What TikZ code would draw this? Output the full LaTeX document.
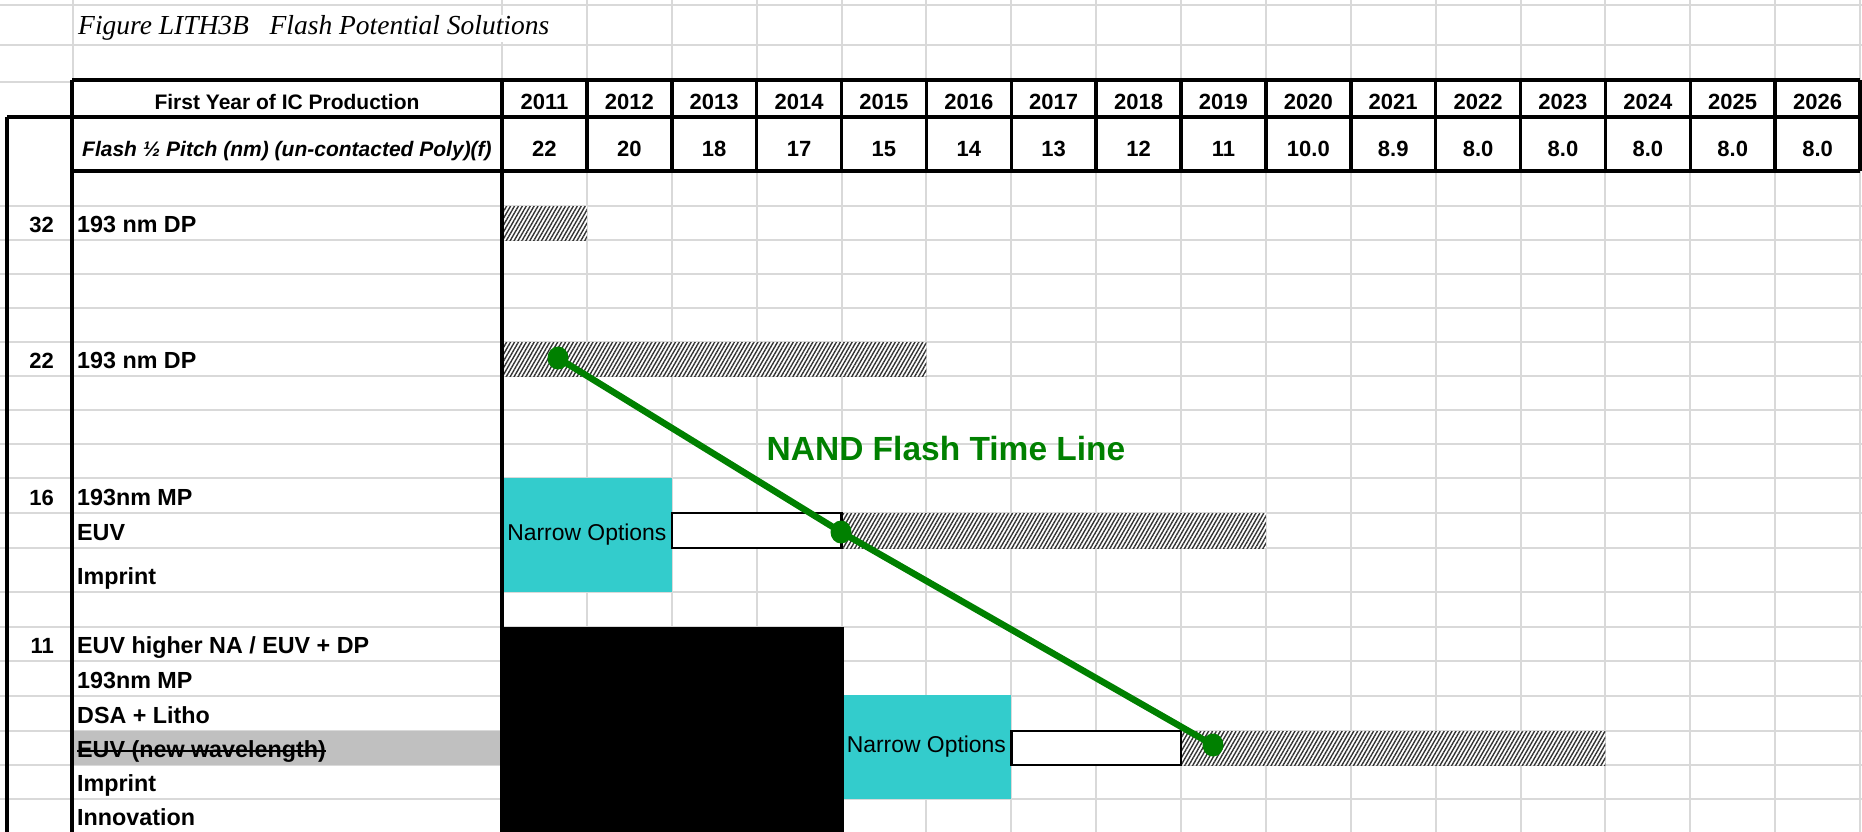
\documentclass[tikz,border=0pt]{standalone}
\usepackage{fontspec}
\setmainfont{Liberation Sans}
\newfontfamily\serifit{Liberation Serif}
\usetikzlibrary{shapes.geometric,patterns.meta,positioning}

\definecolor{gridgray}{HTML}{D9D9D9}
\definecolor{cellgray}{HTML}{C0C0C0}
\definecolor{optcyan}{HTML}{33CCCC}
\definecolor{nandgreen}{HTML}{008000}

\newcommand{\hdfont}{\fontsize{21}{24}\selectfont\bfseries}
\newcommand{\yrfont}{\fontsize{22}{25}\selectfont\bfseries}
\newcommand{\lbfont}{\fontsize{23.3}{27}\selectfont\bfseries}

\tikzset{
  gridline/.style={draw=gridgray, line width=2pt},
  tablerule/.style={draw=black, line width=3.5pt},
  celltext/.style={inner sep=0pt, anchor=base west, font=\lbfont},
  rownum/.style={inner sep=0pt, anchor=base east, font=\yrfont},
  yeartext/.style={inner sep=0pt, anchor=base, font=\yrfont},
  hatchbar/.style={anchor=north west, inner sep=0pt, outer sep=0pt, minimum height=34pt,
    preaction={fill=white}, pattern={Lines[angle=60,distance=3.4pt,line width=1.4pt]},
    pattern color=black!80},
  optionbox/.style={anchor=north west, inner sep=0pt, outer sep=0pt, fill=optcyan,
    font=\fontsize{22.9}{26}\selectfont},
  openbox/.style={anchor=north west, inner sep=0pt, outer sep=0pt, fill=white, draw=black,
    line width=2.5pt, minimum height=34pt},
  timedot/.style={ellipse, fill=nandgreen, inner sep=0pt, minimum width=21pt, minimum height=23pt},
}

\begin{document}
\begin{tikzpicture}[x=1pt,y=-1pt]
\useasboundingbox (0,0) rectangle (1862,832);

% Sheet grid
\foreach \y in {5,45,206,240,274,308,342,376,410,444,478,513,548,592,627,661,696,731,765,799}
  \draw[gridline] (0,\y) -- (1862,\y);
\draw[gridline] (0,82) -- (72,82);
\draw[gridline] (73,0) -- (73,80);
\draw[gridline] (502,0) -- (502,80);
\foreach \i in {1,...,16}
  \draw[gridline] ({502+84.875*\i},0) -- ({502+84.875*\i},833);

% Struck-out row
\node[anchor=north west, inner sep=0pt, fill=cellgray, minimum width=427pt, minimum height=34pt] (newwave) at (74,731) {};

% Potential solution bars
\node[hatchbar, minimum width=84.9pt] (bar32) at (502,206) {};
\node[hatchbar, minimum width=424.4pt] (bar22) at (502,342) {};
\node[hatchbar, minimum width=424.4pt, minimum height=35pt] (bar16) at (841.5,513) {};
\node[hatchbar, minimum width=424.4pt] (bar11) at (1181,731) {};

% Narrow options
\node[optionbox, minimum width=169.75pt, minimum height=114pt] (narrowa) at (502,478) {Narrow Options};
\node[openbox, minimum width=169.75pt, minimum height=35pt] (opena) at (671.75,513) {};
\node[optionbox, minimum width=169.75pt, minimum height=104pt] (narrowb) at (841.5,695) {Narrow Options};
\node[openbox, minimum width=169.75pt] (openb) at (1011.25,731) {};

% Research required
\node[anchor=north west, inner sep=0pt, fill=black, minimum width=341.5pt, minimum height=206pt] (research) at (502,627) {};

% Table rules
\draw[tablerule] (72,80) -- (1860,80);
\draw[tablerule] (7,117) -- (1860,117);
\draw[tablerule] (72,171) -- (1860,171);
\draw[tablerule] (7,117) -- (7,833);
\draw[tablerule] (72,80) -- (72,833);
\draw[tablerule] (502,80) -- (502,833);
\foreach \i in {1,...,16}
  \draw[tablerule] ({502+84.875*\i},80) -- ({502+84.875*\i},171);

% Title
\node[anchor=base west, inner sep=1pt, fill=white, font=\serifit\itshape\fontsize{27.5}{30}\selectfont] (title) at (77,35) {Figure LITH3B\ \ \ Flash Potential Solutions};

% Header rows
\node[yeartext, font=\hdfont] (firstyear) at (287,110) {First Year of IC Production};
\foreach \yr [count=\i from 0] in {2011,...,2026}
  \node[yeartext] (y\yr) at ({502+84.875*(\i+0.5)},110) {\yr};
\node[celltext, font=\hdfont\itshape] (pitch) at (82,157) {Flash ½ Pitch (nm) (un-contacted Poly)(f)};
\foreach \v [count=\i from 0] in {22,20,18,17,15,14,13,12,11,10.0,8.9,8.0,8.0,8.0,8.0,8.0}
  \node[yeartext] (p\i) at ({502+84.875*(\i+0.5)},157) {\v};

% Half pitch rows
\node[rownum] (n32) at (54,232) {32};
\node[celltext] (s32) at (77,232) {193 nm DP};
\node[rownum] (n22) at (54,368) {22};
\node[celltext] (s22) at (77,368) {193 nm DP};
\node[rownum] (n16) at (54,505) {16};
\node[celltext] (s16a) at (77,505) {193nm MP};
\node[celltext] (s16b) at (77,540) {EUV};
\node[celltext] (s16c) at (77,584) {Imprint};
\node[rownum] (n11) at (54,653) {11};
\node[celltext] (s11a) at (77,653) {EUV higher NA / EUV + DP};
\node[celltext] (s11b) at (77,688) {193nm MP};
\node[celltext] (s11c) at (77,723) {DSA + Litho};
\node[celltext] (s11d) at (77,757) {EUV (new wavelength)};
\draw[line width=2pt] ([yshift=6pt]s11d.base west) -- ([yshift=6pt]s11d.base east);
\node[celltext] (s11e) at (77,791) {Imprint};
\node[celltext] (s11f) at (77,825) {Innovation};

% NAND time line
\node[inner sep=0pt, text=nandgreen, font=\fontsize{33.5}{36}\selectfont\bfseries] (nand) at (946,449) {NAND Flash Time Line};
\node[timedot] (d22) at (558,358) {};
\node[timedot] (d16) at (841,532) {};
\node[timedot] (d11) at (1213,745) {};
\draw[nandgreen, line width=6.5pt] (d22.center) -- (d16.center) -- (d11.center);

\end{tikzpicture}
\end{document}
